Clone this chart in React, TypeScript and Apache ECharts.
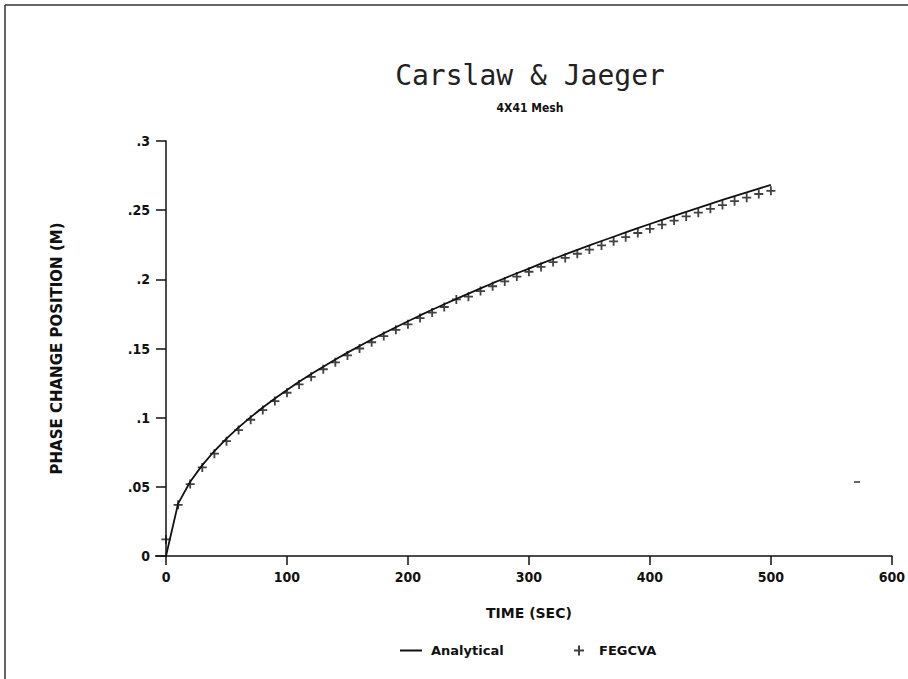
import React, { useEffect, useRef } from "react";
import * as echarts from "echarts";

const times = [0, 10, 20, 30, 40, 50, 60, 70, 80, 90, 100, 110, 120, 130, 140, 150, 160, 170, 180, 190, 200, 210, 220, 230, 240, 250, 260, 270, 280, 290, 300, 310, 320, 330, 340, 350, 360, 370, 380, 390, 400, 410, 420, 430, 440, 450, 460, 470, 480, 490, 500];

const analytical = [0, 0.0379, 0.0537, 0.0657, 0.0759, 0.0849, 0.093, 0.1004, 0.1073, 0.1138, 0.12, 0.1259, 0.1315, 0.1368, 0.142, 0.147, 0.1518, 0.1565, 0.161, 0.1654, 0.1697, 0.1739, 0.178, 0.182, 0.1859, 0.1897, 0.1935, 0.1972, 0.2008, 0.2044, 0.2078, 0.2113, 0.2147, 0.218, 0.2213, 0.2245, 0.2277, 0.2308, 0.2339, 0.237, 0.24, 0.243, 0.2459, 0.2488, 0.2517, 0.2546, 0.2574, 0.2602, 0.2629, 0.2656, 0.2683];

const fegcva = [0.012, 0.037, 0.052, 0.064, 0.074, 0.083, 0.091, 0.0985, 0.1055, 0.112, 0.118, 0.124, 0.1295, 0.135, 0.14, 0.145, 0.15, 0.1545, 0.159, 0.1635, 0.1675, 0.172, 0.176, 0.18, 0.1855, 0.1875, 0.1915, 0.195, 0.1985, 0.202, 0.2055, 0.209, 0.2125, 0.2155, 0.2185, 0.2215, 0.2245, 0.2275, 0.2305, 0.2335, 0.2365, 0.2395, 0.2425, 0.2455, 0.2482, 0.251, 0.2537, 0.2565, 0.259, 0.2617, 0.264];

const titleText = "Carslaw & Jaeger";
const subtitleText = "4X41 Mesh";
const xAxisName = "TIME (SEC)";
const yAxisName = "PHASE CHANGE POSITION (M)";
const seriesNames = ["Analytical", "FEGCVA"];

const PLUS = "path://M-1,-5 H1 V-1 H5 V1 H1 V5 H-1 V1 H-5 V-1 H-1 Z";
const labelFont = "'DejaVu Sans Condensed', 'Liberation Sans Narrow', 'Liberation Sans', sans-serif";
const nameFont = "'DejaVu Sans', sans-serif";

export default function App() {
  const ref = useRef<HTMLDivElement>(null);
  useEffect(() => {
    if (!ref.current) return;
    const chart = echarts.init(ref.current, null, { renderer: "svg" });
    const legendText = { fontFamily: nameFont, fontSize: 13, fontWeight: "bold", color: "#111" };
    chart.setOption({
      animation: false,
      backgroundColor: "#ffffff",
      title: {
        text: titleText,
        subtext: subtitleText,
        left: 525,
        textAlign: "center",
        top: 56,
        itemGap: 13,
        textStyle: { fontFamily: "'DejaVu Sans Mono', monospace", fontSize: 28, fontWeight: "normal", color: "#222" },
        subtextStyle: { fontFamily: labelFont, fontSize: 12, fontWeight: "bold", color: "#111" },
      },
      grid: { left: 166, right: 8, top: 141, bottom: 123, containLabel: false },
      legend: [
        {
          top: 639,
          left: 395,
          itemWidth: 22,
          itemHeight: 10,
          data: [{ name: seriesNames[0], icon: "path://M0,0 H22 V2 H0 Z" }],
          textStyle: { ...legendText, padding: [0, 0, 0, 4] },
        },
        {
          top: 639,
          left: 569,
          itemWidth: 10,
          itemHeight: 10,
          data: [{ name: seriesNames[1], icon: PLUS }],
          textStyle: { ...legendText, padding: [0, 0, 0, 10] },
        },
      ],
      xAxis: {
        type: "value",
        min: 0,
        max: 600,
        interval: 100,
        name: xAxisName,
        nameLocation: "middle",
        nameGap: 50,
        nameTextStyle: { fontFamily: nameFont, fontSize: 14, fontWeight: "bold", color: "#111" },
        axisLine: { show: true, onZero: false, lineStyle: { color: "#111", width: 1.5 } },
        axisTick: { show: true, inside: false, length: 9, lineStyle: { color: "#111", width: 1.5 } },
        axisLabel: { margin: 14, fontFamily: labelFont, fontSize: 14, fontWeight: "bold", color: "#111" },
        splitLine: { show: false },
      },
      yAxis: {
        type: "value",
        min: 0,
        max: 0.3,
        interval: 0.05,
        name: yAxisName,
        nameLocation: "middle",
        nameGap: 102,
        nameRotate: 90,
        nameTextStyle: { fontFamily: nameFont, fontSize: 15, fontWeight: "bold", color: "#111" },
        axisLine: { show: true, lineStyle: { color: "#111", width: 1.5 } },
        axisTick: { show: true, inside: false, length: 10, lineStyle: { color: "#111", width: 1.5 } },
        axisLabel: {
          margin: 16,
          fontFamily: labelFont,
          fontSize: 14,
          fontWeight: "bold",
          color: "#111",
          formatter: (v: number) => {
            if (v === 0) return "0";
            return Number(v.toFixed(2)).toString().replace(/^0\./, ".");
          },
        },
        splitLine: { show: false },
      },
      series: [
        {
          name: seriesNames[0],
          type: "line",
          data: times.map((t, i) => [t, analytical[i]]),
          showSymbol: false,
          symbol: "none",
          lineStyle: { color: "#111", width: 1.8 },
          itemStyle: { color: "#111" },
          z: 3,
        },
        {
          name: seriesNames[1],
          type: "scatter",
          data: times.map((t, i) => [t, fegcva[i]]),
          symbol: PLUS,
          symbolSize: 9,
          itemStyle: { color: "#111" },
          z: 4,
        },
      ],
      graphic: [
        { type: "line", shape: { x1: 5, y1: 5, x2: 908, y2: 5 }, style: { stroke: "#333", lineWidth: 1.5 } },
        { type: "line", shape: { x1: 5, y1: 5, x2: 5, y2: 679 }, style: { stroke: "#333", lineWidth: 1.5 } },
        { type: "line", shape: { x1: 155, y1: 556, x2: 166, y2: 556 }, style: { stroke: "#111", lineWidth: 1.5 } },
        { type: "line", shape: { x1: 854, y1: 482, x2: 860, y2: 482 }, style: { stroke: "#333", lineWidth: 1.5 } },
      ],
    });
    return () => chart.dispose();
  }, []);
  return <div ref={ref} style={{ position: "absolute", left: 0, top: 0, width: 908, height: 679 }} />;
}
